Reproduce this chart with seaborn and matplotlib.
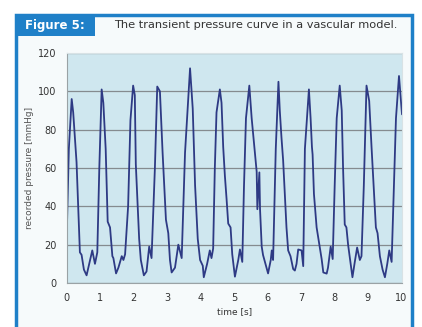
import seaborn as sns
import matplotlib.pyplot as plt
from matplotlib.patches import Rectangle
import pandas as pd

# Datos (tiempo en s, presion en mmHg)
tiempo = [0.00, 0.07, 0.155, 0.20, 0.30, 0.40, 0.45, 0.52, 0.60, 0.68, 0.77, 0.85, 0.92, 0.98,
          1.05, 1.10, 1.17, 1.23, 1.30, 1.37, 1.40, 1.48, 1.55, 1.65, 1.70, 1.75, 1.84, 1.91,
          1.99, 2.04, 2.07, 2.17, 2.22, 2.31, 2.39, 2.47, 2.54, 2.64,
          2.71, 2.79, 2.87, 2.97, 3.04, 3.09, 3.14, 3.24, 3.34, 3.44, 3.54,
          3.69, 3.77, 3.84, 3.92, 3.99, 4.07, 4.10, 4.20, 4.28, 4.33, 4.38, 4.43, 4.48,
          4.58, 4.63, 4.68, 4.73, 4.78, 4.83, 4.90, 4.95, 5.03, 5.13, 5.18, 5.25, 5.30, 5.36,
          5.46, 5.53, 5.61, 5.68, 5.70, 5.76, 5.78, 5.83, 5.87, 6.02, 6.10, 6.13, 6.17, 6.25,
          6.33, 6.37, 6.42, 6.47, 6.52, 6.57, 6.62, 6.69, 6.77, 6.82, 6.87, 6.92, 7.02, 7.07, 7.12,
          7.24, 7.29, 7.33, 7.35, 7.39, 7.47, 7.55, 7.62, 7.67, 7.77, 7.81, 7.89, 7.95, 8.01, 8.07,
          8.16, 8.22, 8.26, 8.31, 8.36, 8.41, 8.48, 8.54, 8.61, 8.68, 8.76, 8.81, 8.88,
          8.96, 9.04, 9.11, 9.16, 9.24, 9.29, 9.36, 9.44, 9.51, 9.58, 9.64, 9.71, 9.78, 9.84,
          9.93, 9.99, 10.02]
presion = [20, 70, 96, 89, 63, 16, 14.7, 7, 4, 10, 17, 10, 16, 60,
           101, 94, 70, 32, 29, 14, 13, 5, 8, 14, 12, 15, 40, 85,
           103, 98, 62, 23, 12, 4, 6, 19, 13, 60,
           102.5, 100, 68, 33, 26, 12, 5.5, 8, 20, 13, 68,
           112, 91, 51, 23, 12, 9, 3, 10, 17, 13, 18, 60, 89,
           101, 94, 71, 56, 44, 31, 29, 15, 3.3, 12, 17.5, 11, 50, 86,
           103, 86, 71, 58, 38.5, 57.7, 38.5, 19, 14.6, 5, 12, 17, 12, 70,
           105, 90, 76, 64, 46.5, 29, 17, 14, 7.3, 6.5, 10, 17.5, 17, 8.8, 70,
           101, 86, 71, 67, 46.5, 29, 20, 12.5, 5.5, 4.9, 8, 19, 12.5, 51, 86,
           103, 90, 60, 30.5, 29, 20, 11, 3, 11, 18.5, 12, 14, 51,
           103, 95, 71, 55, 29, 26, 14, 7, 3, 10, 17, 11, 51, 86,
           108, 95, 88]

xticks = list(range(0, 11))
yticks = [0, 20, 40, 60, 80, 100, 120]

titulo = "The transient pressure curve in a vascular model."
etiqueta_fig = "Figure 5:"

azul = '#1f80c8'

sns.set_style("whitegrid", {"axes.facecolor": "#cfe7ef", "grid.color": "#858b8f",
                            "axes.edgecolor": "#a9b0b3"})

df = pd.DataFrame({"t": tiempo, "p": presion})

fig = plt.figure(figsize=(4.22, 3.27), dpi=100)
fig.patch.set_facecolor('white')

# marco azul y cabecera
fig.patches.append(Rectangle((16 / 422, -0.05), (396 / 422), 1.05 - 15 / 327,
                             transform=fig.transFigure, facecolor='#f6fafb',
                             edgecolor=azul, linewidth=2.5, zorder=-2))
fig.patches.append(Rectangle((16 / 422, 1 - 36 / 327), 79 / 422, 21 / 327,
                             transform=fig.transFigure, facecolor=azul,
                             edgecolor=azul, linewidth=0, zorder=-1))
fig.text(55 / 422, 1 - 25.5 / 327, etiqueta_fig, color='white', fontsize=8.5,
         fontweight='bold', ha='center', va='center')
fig.text(256 / 422, 1 - 25.5 / 327, titulo, color='#333333', fontsize=8.2,
         ha='center', va='center')

ax = fig.add_axes([66.5 / 422, 1 - 283 / 327, (402 - 66.5) / 422, (283 - 53) / 327])
ax.set_zorder(3)
sns.lineplot(data=df, x="t", y="p", ax=ax, color='#2e3a84', linewidth=1.3)

ax.set_xlim(0, 10.02)
ax.set_ylim(0, 120)
ax.set_xticks(xticks)
ax.set_yticks(yticks)
ax.grid(axis='x', visible=False)
ax.grid(axis='y', linewidth=0.9)
ax.tick_params(axis='both', labelsize=7, colors='#333333', length=3, width=0.6,
               direction='out', pad=4)
ax.tick_params(axis='both', color='#999999')
ax.set_xlabel("time [s]", fontsize=6.5, color='#333333', labelpad=3)
ax.set_ylabel("recorded pressure [mmHg]", fontsize=6.5, color='#555555', labelpad=3)
for s in ['top', 'right']:
    ax.spines[s].set_color('#d8e2e5')
for s in ['left', 'bottom']:
    ax.spines[s].set_color('#9aa2a5')

fig.savefig("out.png", dpi=100)
